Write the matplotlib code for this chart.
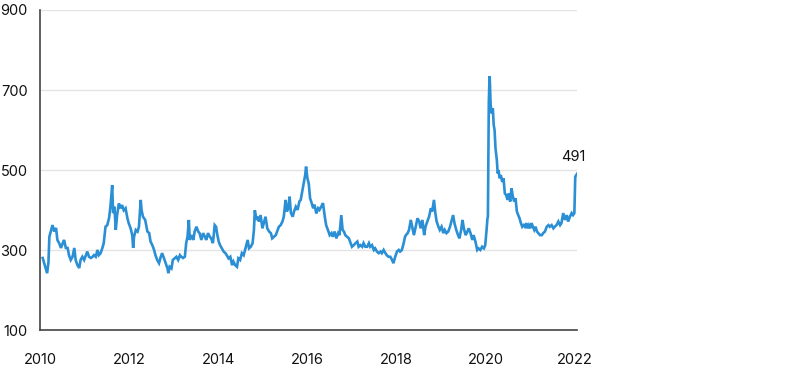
import matplotlib
matplotlib.use("Agg")
import matplotlib.pyplot as plt

plt.rcParams['font.family'] = ['Inter', 'DejaVu Sans']

years = [
    2010.06, 2010.11, 2010.16, 2010.19, 2010.21, 2010.25, 2010.28, 2010.32, 2010.36, 2010.39,
    2010.43, 2010.47, 2010.51, 2010.54, 2010.58, 2010.62, 2010.65, 2010.69, 2010.73, 2010.77,
    2010.80, 2010.84, 2010.88, 2010.91, 2010.95, 2010.99, 2011.03, 2011.06, 2011.10, 2011.14,
    2011.18, 2011.21, 2011.25, 2011.29, 2011.32, 2011.36, 2011.40, 2011.43, 2011.47, 2011.51,
    2011.55, 2011.58, 2011.62, 2011.64, 2011.67, 2011.70, 2011.73, 2011.77, 2011.81, 2011.84,
    2011.88, 2011.92, 2011.96, 2011.99, 2012.03, 2012.07, 2012.09, 2012.11, 2012.15, 2012.19,
    2012.22, 2012.26, 2012.28, 2012.31, 2012.36, 2012.39, 2012.41, 2012.45, 2012.48, 2012.52,
    2012.56, 2012.59, 2012.63, 2012.67, 2012.71, 2012.74, 2012.78, 2012.82, 2012.86, 2012.88,
    2012.91, 2012.95, 2012.98, 2013.03, 2013.06, 2013.10, 2013.14, 2013.17, 2013.21, 2013.25,
    2013.28, 2013.31, 2013.34, 2013.36, 2013.40, 2013.44, 2013.47, 2013.51, 2013.55, 2013.58,
    2013.62, 2013.66, 2013.70, 2013.73, 2013.77, 2013.81, 2013.84, 2013.88, 2013.92, 2013.95,
    2013.98, 2014.01, 2014.04, 2014.08, 2014.12, 2014.16, 2014.19, 2014.23, 2014.27, 2014.31,
    2014.34, 2014.38, 2014.42, 2014.45, 2014.49, 2014.53, 2014.57, 2014.62, 2014.66, 2014.69,
    2014.73, 2014.77, 2014.80, 2014.82, 2014.86, 2014.89, 2014.91, 2014.95, 2014.99, 2015.03,
    2015.06, 2015.10, 2015.14, 2015.18, 2015.21, 2015.25, 2015.29, 2015.32, 2015.36, 2015.40,
    2015.44, 2015.47, 2015.51, 2015.54, 2015.57, 2015.60, 2015.63, 2015.67, 2015.70, 2015.74,
    2015.78, 2015.82, 2015.85, 2015.89, 2015.92, 2015.95, 2015.97, 2016.00, 2016.03, 2016.06,
    2016.09, 2016.13, 2016.16, 2016.20, 2016.24, 2016.27, 2016.31, 2016.35, 2016.39, 2016.42,
    2016.46, 2016.50, 2016.54, 2016.57, 2016.61, 2016.65, 2016.69, 2016.72, 2016.76, 2016.79,
    2016.82, 2016.85, 2016.89, 2016.93, 2016.97, 2017.00, 2017.04, 2017.08, 2017.12, 2017.15,
    2017.19, 2017.23, 2017.26, 2017.30, 2017.34, 2017.38, 2017.41, 2017.45, 2017.49, 2017.52,
    2017.56, 2017.60, 2017.64, 2017.67, 2017.71, 2017.75, 2017.78, 2017.82, 2017.86, 2017.90,
    2017.93, 2017.97, 2018.01, 2018.05, 2018.08, 2018.12, 2018.16, 2018.19, 2018.21, 2018.25,
    2018.28, 2018.32, 2018.36, 2018.39, 2018.43, 2018.47, 2018.51, 2018.54, 2018.58, 2018.62,
    2018.65, 2018.69, 2018.73, 2018.77, 2018.80, 2018.84, 2018.87, 2018.90, 2018.94, 2018.97,
    2019.01, 2019.05, 2019.08, 2019.12, 2019.16, 2019.20, 2019.23, 2019.27, 2019.30, 2019.34,
    2019.38, 2019.41, 2019.45, 2019.48, 2019.51, 2019.55, 2019.59, 2019.62, 2019.66, 2019.70,
    2019.73, 2019.77, 2019.81, 2019.84, 2019.88, 2019.92, 2019.96, 2019.99, 2020.02, 2020.04,
    2020.05, 2020.07, 2020.08, 2020.09, 2020.11, 2020.13, 2020.16, 2020.18, 2020.20, 2020.22,
    2020.25, 2020.27, 2020.29, 2020.31, 2020.34, 2020.37, 2020.40, 2020.43, 2020.46, 2020.49,
    2020.52, 2020.55, 2020.58, 2020.61, 2020.64, 2020.67, 2020.70, 2020.73, 2020.76, 2020.79,
    2020.82, 2020.85, 2020.88, 2020.91, 2020.94, 2020.97, 2021.00, 2021.03, 2021.06, 2021.09,
    2021.12, 2021.15, 2021.18, 2021.22, 2021.26, 2021.29, 2021.33, 2021.37, 2021.41, 2021.44,
    2021.48, 2021.52, 2021.55, 2021.59, 2021.63, 2021.67, 2021.70, 2021.74, 2021.78, 2021.82,
    2021.85, 2021.89, 2021.93, 2021.96, 2021.99, 2022.01, 2022.05,
]

values = [
    281, 262, 243, 270, 334, 351, 363, 347, 356, 326,
    318, 306, 318, 326, 306, 306, 288, 276, 284, 306,
    276, 263, 256, 276, 284, 276, 288, 297, 284, 281,
    284, 288, 284, 301, 288, 293, 306, 318, 359, 363,
    381, 409, 463, 393, 409, 351, 388, 417, 405, 413,
    400, 405, 381, 368, 356, 338, 306, 334, 351, 347,
    359, 426, 400, 384, 376, 359, 347, 343, 322, 313,
    301, 288, 276, 268, 284, 293, 281, 268, 255, 243,
    259, 255, 276, 281, 284, 276, 288, 284, 281, 284,
    318, 334, 376, 326, 338, 326, 347, 359, 347, 343,
    326, 343, 334, 326, 343, 334, 330, 318, 363, 359,
    338, 322, 313, 305, 297, 293, 288, 280, 284, 263,
    272, 263, 259, 280, 276, 293, 288, 309, 326, 305,
    309, 318, 351, 400, 376, 384, 372, 388, 355, 372,
    384, 355, 347, 343, 330, 334, 338, 347, 359, 363,
    372, 384, 426, 397, 405, 434, 393, 384, 397, 409,
    401, 422, 426, 451, 471, 488, 509, 480, 467, 430,
    420, 405, 414, 392, 405, 401, 409, 418, 384, 363,
    351, 338, 343, 334, 347, 330, 343, 338, 388, 351,
    347, 338, 334, 330, 318, 309, 313, 318, 322, 309,
    313, 309, 318, 309, 309, 318, 309, 313, 301, 305,
    297, 293, 297, 293, 301, 293, 288, 284, 284, 276,
    268, 284, 297, 301, 297, 301, 318, 334, 338, 343,
    351, 376, 355, 338, 359, 380, 372, 355, 376, 338,
    359, 372, 384, 405, 397, 426, 393, 372, 359, 351,
    359, 343, 351, 343, 347, 359, 372, 388, 368, 351,
    338, 330, 351, 376, 355, 338, 347, 355, 343, 326,
    338, 322, 301, 305, 301, 309, 305, 313, 351, 380,
    384, 667, 709, 735, 667, 642, 655, 613, 600, 555,
    526, 492, 500, 480, 488, 471, 480, 442, 438, 426,
    442, 422, 455, 434, 422, 430, 397, 388, 380, 368,
    359, 363, 359, 368, 355, 363, 355, 368, 359, 351,
    359, 347, 343, 338, 338, 343, 347, 359, 363, 359,
    363, 355, 359, 363, 372, 363, 368, 393, 376, 388,
    372, 384, 393, 388, 393, 484, 491,
]

y_ticks = [100, 300, 500, 700, 900]
x_ticks = [2010, 2012, 2014, 2016, 2018, 2020, 2022]
last_label = "491"

fig = plt.figure(figsize=(8, 3.7), dpi=100)
ax = fig.add_axes([0.05, 0.1068, 0.6713, 0.8662])

ax.plot(years, values, color='#2a8fd4', lw=1.9, solid_joinstyle='miter', zorder=3)

ax.set_ylim(100, 900)
ax.set_xlim(2010.06, 2022.05)
ax.set_yticks(y_ticks)
ax.set_xticks(x_ticks)
ax.set_xticklabels([str(t) for t in x_ticks])
ax.grid(axis='y', color='#e4e4e4', lw=1.0, zorder=0)
ax.grid(axis='x', visible=False)
ax.tick_params(axis='both', length=0, labelsize=10.5, colors='#111111')
ax.tick_params(axis='y', pad=9)
ax.tick_params(axis='x', pad=16)
for s in ['top', 'right']:
    ax.spines[s].set_visible(False)
for s in ['left', 'bottom']:
    ax.spines[s].set_color('#444444')
    ax.spines[s].set_linewidth(1.2)

ax.annotate(last_label, xy=(years[-1], values[-1]), xytext=(-3, 7),
            textcoords='offset points', ha='center', va='bottom',
            fontsize=10.5, color='#111111')

fig.savefig('out.png', dpi=100)
